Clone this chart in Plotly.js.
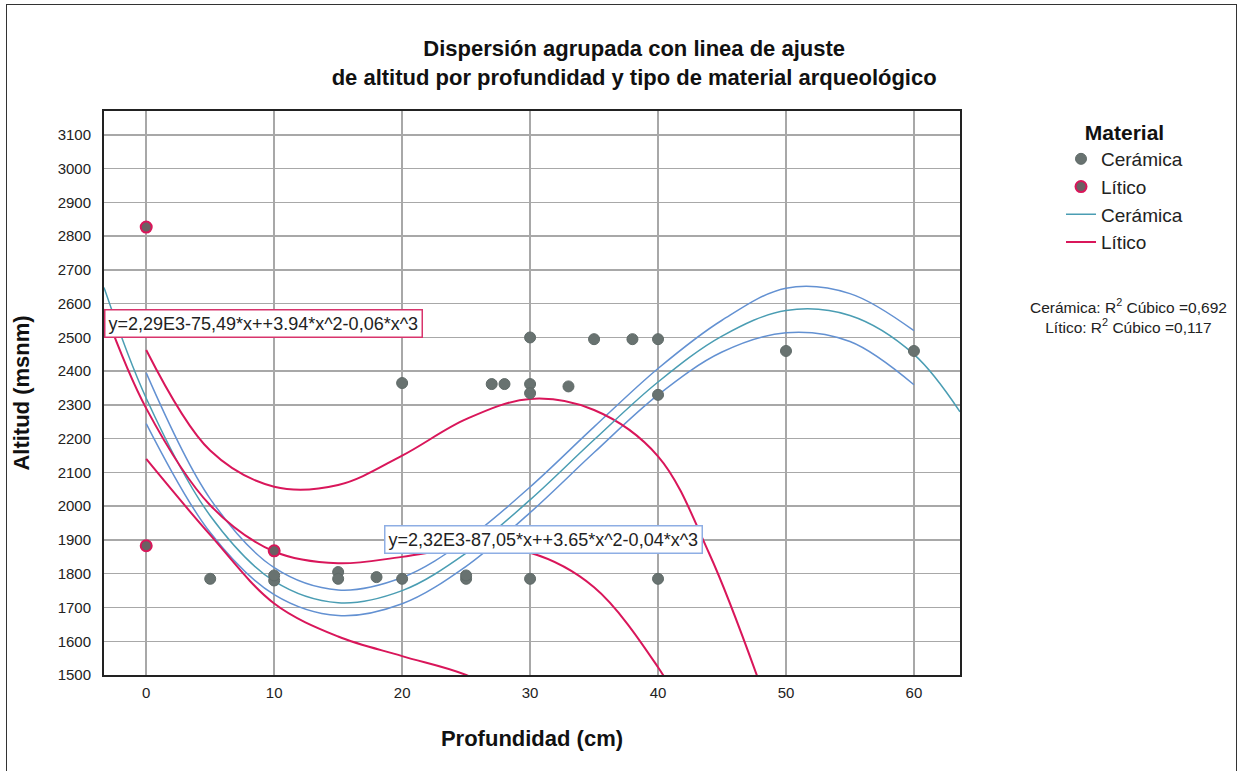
<!DOCTYPE html>
<html>
<head>
<meta charset="utf-8">
<script src="https://cdn.plot.ly/plotly-3.0.1.min.js"></script>
<style>
  html, body { margin: 0; padding: 0; background: #fff; }
  #chart { width: 1241px; height: 771px; }
  #frame { position: absolute; left: 6px; top: 4px; width: 1229px; height: 772px; border: 1px solid #333; pointer-events: none; }
</style>
</head>
<body>
<div id="chart"></div>
<div id="frame"></div>
<script>
// ---- Data ----
const ceramicaX = [5, 10, 10, 15, 15, 18, 20, 20, 25, 25, 27, 28, 30, 30, 30, 30, 33, 35, 38, 40, 40, 40, 50, 60];
const ceramicaY = [1785, 1780, 1795, 1805, 1785, 1790, 1785, 2365, 1785, 1795, 2362, 2362, 2500, 2362, 2335, 1785, 2355, 2495, 2495, 2495, 2330, 1785, 2460, 2460];

const liticoX = [0, 0, 10];
const liticoY = [2827, 1883, 1868];

// Fit lines
const ceramicaFitX = [-3.3, 0, 5, 10, 15, 20, 25, 30, 35, 40, 45, 50, 55, 60, 63.6];
const ceramicaFitY = [2648, 2320, 1972, 1778, 1714, 1750, 1861, 2019, 2197, 2368, 2504, 2580, 2565, 2450, 2280];

const ceramicaBandX = [0, 5, 10, 15, 20, 25, 30, 35, 40, 45, 50, 55, 60];
const ceramicaUpper = [2395, 2022, 1818, 1752, 1789, 1900, 2057, 2235, 2408, 2551, 2646, 2630, 2520];
const ceramicaLower = [2245, 1922, 1738, 1676, 1711, 1822, 1981, 2159, 2330, 2457, 2514, 2488, 2360];

const liticoFitX = [-3.3, 0, 5, 10, 15, 20, 25, 30, 35, 40, 42];
const liticoFitY = [2584, 2290, 2003, 1866, 1831, 1850, 1876, 1862, 1760, 1523, 1390];

const liticoUpperX = [0, 5, 10, 15, 20, 25, 30, 35, 40, 44, 48];
const liticoUpperY = [2463, 2165, 2058, 2063, 2150, 2258, 2318, 2285, 2148, 1860, 1470];

const liticoLowerX = [0, 5, 10, 15, 20, 25, 30];
const liticoLowerY = [2140, 1915, 1712, 1614, 1556, 1500, 1400];

const xTicks = [0, 10, 20, 30, 40, 50, 60];
const yTicks = [1500, 1600, 1700, 1800, 1900, 2000, 2100, 2200, 2300, 2400, 2500, 2600, 2700, 2800, 2900, 3000, 3100];

const eqLitico = 'y=2,29E3-75,49*x++3.94*x^2-0,06*x^3';
const eqCeramica = 'y=2,32E3-87,05*x++3.65*x^2-0,04*x^3';
const r2Text = 'Cerámica: R<sup>2</sup> Cúbico =0,692<br>Lítico: R<sup>2</sup> Cúbico =0,117';

// ---- Styles ----
const RED = '#d9165a';
const BLUE = '#6391d2';
const TEAL = '#4a9db3';
const FONT = 'Liberation Sans, Arial, sans-serif';

const traces = [
  { x: ceramicaBandX, y: ceramicaUpper, mode: 'lines', line: { color: BLUE, width: 1.5, shape: 'spline' }, showlegend: false, hoverinfo: 'skip' },
  { x: ceramicaBandX, y: ceramicaLower, mode: 'lines', line: { color: BLUE, width: 1.5, shape: 'spline' }, showlegend: false, hoverinfo: 'skip' },
  { x: liticoUpperX, y: liticoUpperY, mode: 'lines', line: { color: RED, width: 2, shape: 'spline' }, showlegend: false, hoverinfo: 'skip' },
  { x: liticoLowerX, y: liticoLowerY, mode: 'lines', line: { color: RED, width: 2, shape: 'spline' }, showlegend: false, hoverinfo: 'skip' },
  { x: ceramicaFitX, y: ceramicaFitY, mode: 'lines', name: 'Cerámica', legendrank: 3, line: { color: TEAL, width: 1.5, shape: 'spline' } },
  { x: liticoFitX, y: liticoFitY, mode: 'lines', name: 'Lítico', legendrank: 4, line: { color: RED, width: 2, shape: 'spline' } },
  { x: ceramicaX, y: ceramicaY, mode: 'markers', name: 'Cerámica', legendrank: 1,
    marker: { color: '#687270', size: 11, line: { color: '#5f6a68', width: 1 } } },
  { x: liticoX, y: liticoY, mode: 'markers', name: 'Lítico', legendrank: 2,
    marker: { color: '#6b6063', size: 11, line: { color: RED, width: 2 } } }
];

const layout = {
  width: 1241, height: 771,
  paper_bgcolor: '#ffffff', plot_bgcolor: '#ffffff',
  margin: { l: 104, r: 281, t: 111, b: 96 },
  font: { family: FONT, color: '#222' },
  title: {
    text: '<b>Dispersión agrupada con linea de ajuste<br>de altitud por profundidad y tipo de material arqueológico</b>',
    font: { size: 22, color: '#111', family: FONT },
    x: 0.511, xanchor: 'center', y: 0.927, yanchor: 'top'
  },
  xaxis: {
    range: [-3.3, 63.6], tickvals: xTicks, ticktext: xTicks.map(String),
    showgrid: true, gridcolor: '#a8a8a8', gridwidth: 1.5, zeroline: false,
    showline: true, mirror: true, linecolor: '#222', linewidth: 2,
    ticks: '', ticklabelstandoff: 3,
    tickfont: { size: 15, color: '#222' },
    title: { text: '<b>Profundidad (cm)</b>', font: { size: 22, color: '#111' }, standoff: 31 }
  },
  yaxis: {
    range: [1500, 3171], tickvals: yTicks, ticktext: yTicks.map(String),
    showgrid: true, gridcolor: '#a8a8a8', gridwidth: 1.5, zeroline: false,
    showline: true, mirror: true, linecolor: '#222', linewidth: 2,
    ticks: '', ticklabelstandoff: 8,
    tickfont: { size: 15, color: '#222' },
    title: { text: '<b>Altitud (msnm)</b>', font: { size: 22, color: '#111' }, standoff: 22 }
  },
  legend: {
    x: 1.118, xanchor: 'left', y: 0.997, yanchor: 'top',
    title: { text: '<b>Material</b>', font: { size: 21, color: '#111' }, side: 'top center' },
    font: { size: 19, color: '#222' },
    itemwidth: 30, tracegroupgap: 0, bgcolor: 'rgba(0,0,0,0)'
  },
  annotations: [
    { xref: 'x', yref: 'y', x: -3.3, y: 2541, xanchor: 'left', yanchor: 'middle', text: eqLitico, showarrow: false,
      font: { size: 18, color: '#222' }, bgcolor: '#ffffff', bordercolor: '#d8346c', borderwidth: 1.5, borderpad: 3 },
    { xref: 'x', yref: 'y', x: 18.6, y: 1900, xanchor: 'left', yanchor: 'middle', text: eqCeramica, showarrow: false,
      font: { size: 18, color: '#222' }, bgcolor: '#ffffff', bordercolor: '#8eaee4', borderwidth: 1.5, borderpad: 3 },
    { xref: 'paper', yref: 'paper', x: 1.197, y: 0.637, xanchor: 'center', yanchor: 'middle', text: r2Text, showarrow: false,
      align: 'center', font: { size: 15.5, color: '#222' } }
  ]
};

Plotly.newPlot('chart', traces, layout, { displayModeBar: false, staticPlot: true });
</script>
</body>
</html>
